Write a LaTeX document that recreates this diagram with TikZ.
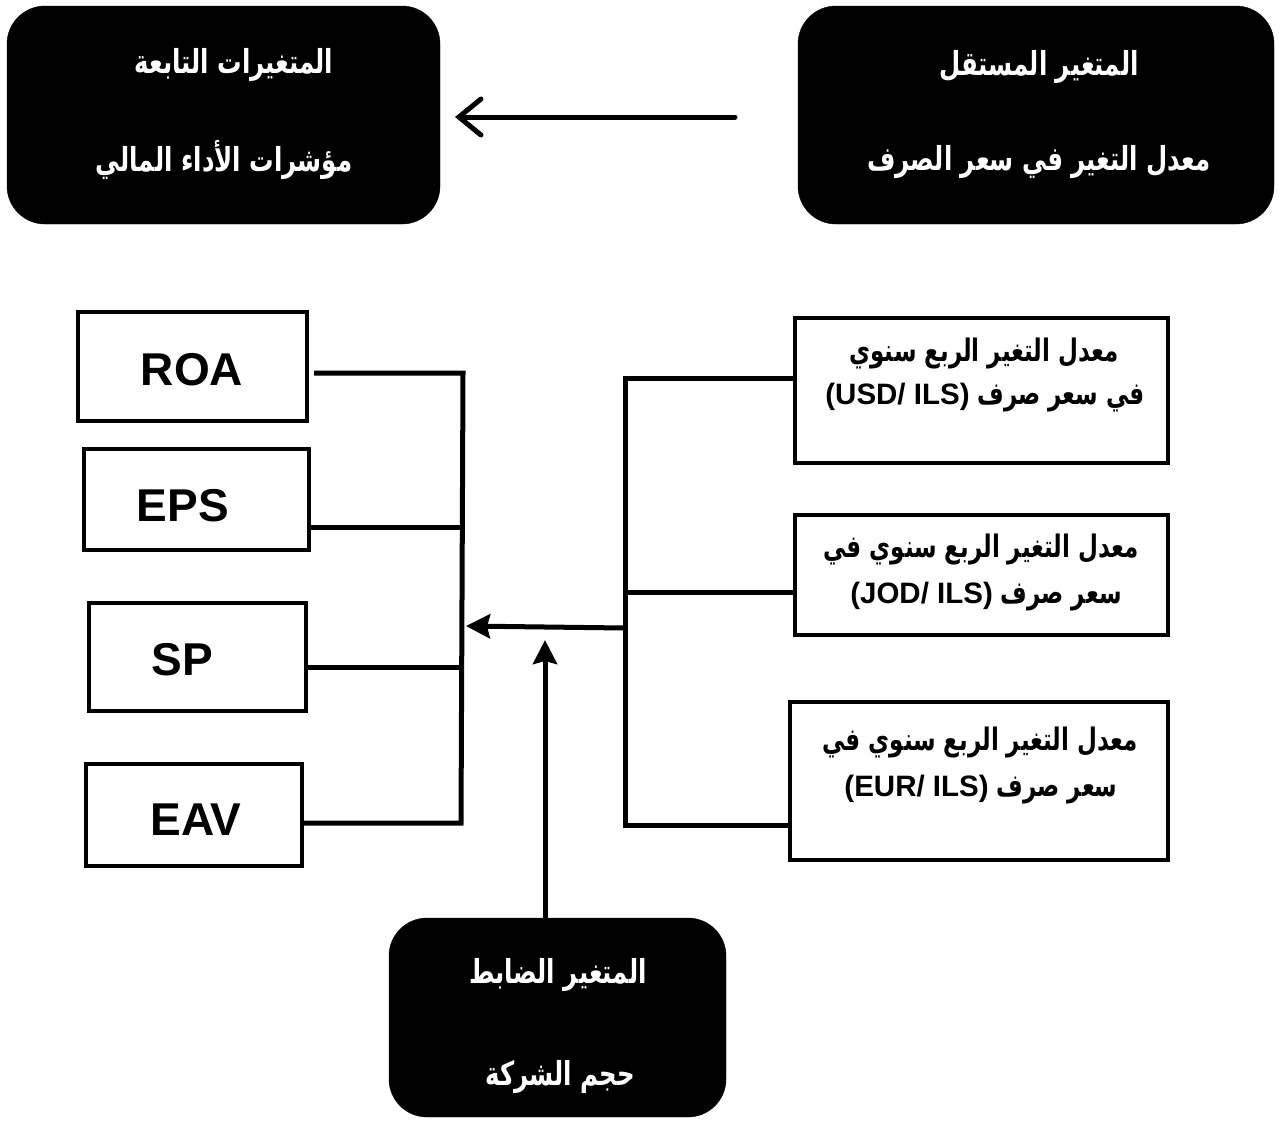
\documentclass[tikz,border=0pt]{standalone}
\usepackage{fontspec}
\setmainfont{Liberation Sans}
\newfontfamily\arabicfont[Script=Arabic,FakeStretch=0.74]{DejaVu Sans}
\newfontfamily\latinfont{Liberation Sans}
\TeXXeTstate=1
\usetikzlibrary{arrows.meta}
\begin{document}
\begin{tikzpicture}[x=1pt,y=-1pt,
  blackbox/.style={draw=black,fill=black,rounded corners=38pt,inner sep=0pt},
  whitebox/.style={draw=black,line width=4pt,inner sep=0pt},
  wtext/.style={text=white,font=\arabicfont\bfseries\fontsize{33}{38}\selectfont,inner sep=0pt},
  btext/.style={text=black,font=\arabicfont\bfseries\fontsize{31}{35}\selectfont,inner sep=0pt},
  ltext/.style={text=black,font=\latinfont\bfseries\fontsize{46}{50}\selectfont,inner sep=0pt},
  conn/.style={draw=black,line width=5pt},
  headarrow/.style={-{Stealth[length=24pt,width=24pt,inset=3pt]}}
]
\useasboundingbox (0,0) rectangle (1279,1120);
\fill[white] (0,0) rectangle (1279,1120);

% black boxes
\node[blackbox,minimum width=433pt,minimum height=218pt] (TL) at (223.5,115) {};
\node[blackbox,minimum width=476pt,minimum height=218pt] (TR) at (1036,115) {};
\node[blackbox,minimum width=337pt,minimum height=199pt] (BM) at (557.5,1017.5) {};

\node[wtext] (tl1) at (234,65) {\beginR المتغيرات التابعة\endR};
\node[wtext] (tl2) at (224,160) {\beginR مؤشرات الأداء المالي\endR};
\node[wtext] (tr1) at (1039,67) {\beginR المتغير المستقل\endR};
\node[wtext] (tr2) at (1039,162) {\beginR معدل التغير في سعر الصرف\endR};
\node[wtext] (bm1) at (558,975) {\beginR المتغير الضابط\endR};
\node[wtext] (bm2) at (560,1077) {\beginR حجم الشركة\endR};

% left boxes
\node[whitebox,minimum width=229pt,minimum height=109pt] (ROA) at (192.5,366.5) {};
\node[whitebox,minimum width=225pt,minimum height=101pt] (EPS) at (196.5,499.5) {};
\node[whitebox,minimum width=217pt,minimum height=108pt] (SP) at (197.5,657) {};
\node[whitebox,minimum width=216pt,minimum height=102pt] (EAV) at (194,815) {};
\node[ltext] (roat) at (192,370) {ROA};
\node[ltext] (epst) at (183,506) {EPS};
\node[ltext] (spt) at (182,660) {SP};
\node[ltext] (eavt) at (196,820) {EAV};

% right boxes
\node[whitebox,minimum width=373pt,minimum height=145pt] (USD) at (981.5,390.5) {};
\node[whitebox,minimum width=373pt,minimum height=120pt] (JOD) at (981.5,575) {};
\node[whitebox,minimum width=378pt,minimum height=158pt] (EUR) at (979,781) {};

\node[btext] (usd1) at (984,353) {\beginR معدل التغير الربع سنوي\endR};
\node[btext] (usd2) at (985,398) {\beginR في سعر صرف \beginL{\latinfont\bfseries\fontsize{29.5}{33}\selectfont (USD/ ILS)}\endL\endR};
\node[btext] (jod1) at (981,549) {\beginR معدل التغير الربع سنوي في\endR};
\node[btext] (jod2) at (986,597) {\beginR سعر صرف \beginL{\latinfont\bfseries\fontsize{29.5}{33}\selectfont (JOD/ ILS)}\endL\endR};
\node[btext] (eur1) at (980,742) {\beginR معدل التغير الربع سنوي في\endR};
\node[btext] (eur2) at (981,790) {\beginR سعر صرف \beginL{\latinfont\bfseries\fontsize{29.5}{33}\selectfont (EUR/ ILS)}\endL\endR};

% coordinates
\coordinate (bl1) at (463,373);
\coordinate (bl2) at (461,527);
\coordinate (bl3) at (461,667);
\coordinate (bl4) at (461,823);
\coordinate (br1) at (625,378);
\coordinate (br2) at (625,592);
\coordinate (br3) at (625,825);
\coordinate (brm) at (625,628);
\coordinate (blm) at (466,626);
\coordinate (vtop) at (545,640);
\coordinate (tas) at (735,117);
\coordinate (tae) at (455,117);

% left bus
\draw[conn] ([xshift=5pt]ROA.east |- bl1) -- (bl1) -- (bl4) -- (EAV.east |- bl4);
\draw[conn] (EPS.east |- bl2) -- (bl2);
\draw[conn] (SP.east |- bl3) -- (bl3);
% right bus
\draw[conn] (USD.west |- br1) -- (br1) -- (br3) -- (EUR.west |- br3);
\draw[conn] (JOD.west |- br2) -- (br2);
% arrows
\draw[conn,headarrow] (brm) -- (blm);
\draw[conn,headarrow] (BM.north -| vtop) -- (vtop);
\draw[conn,line cap=round,-{Straight Barb[length=22pt,width=36pt,line cap=round]}] (tas) -- (tae);
\end{tikzpicture}
\end{document}
